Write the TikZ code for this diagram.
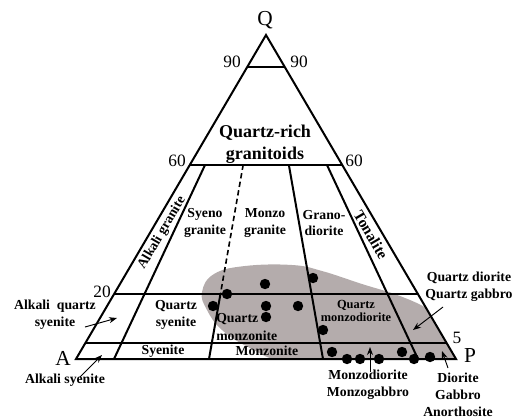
\documentclass[tikz,border=0pt]{standalone}
\usepackage{fontspec}
\setmainfont{Liberation Serif}
\usetikzlibrary{arrows.meta}

\definecolor{fieldgray}{RGB}{180,172,172}
\tikzset{
  edge/.style={line width=1.5pt, line join=miter},
  rockname/.style={font=\bfseries\fontsize{10.3}{12.6}\selectfont, align=center, inner sep=0pt},
  rocksmall/.style={font=\bfseries\fontsize{9.3}{10}\selectfont, align=center, inner sep=0pt},
  numlabel/.style={font=\fontsize{13}{15}\selectfont, inner sep=0pt},
  apexlabel/.style={font=\fontsize{16}{18}\selectfont, inner sep=0pt},
  pointer/.style={line width=0.7pt, -{Stealth[length=6pt,width=4.5pt]}}
}

\begin{document}
\begin{tikzpicture}[x=0.75pt,y=-0.75pt]
\useasboundingbox (0,0) rectangle (513,418);
\coordinate (A) at (76,359);
\coordinate (P) at (456,359);
\coordinate (Q) at (266,35);

% sample field
\begin{scope}
\clip (A) -- (Q) -- (P) -- cycle;
\fill[fieldgray] plot[smooth cycle, tension=0.7] coordinates {
  (202,292) (214,274) (245,266) (292,265) (322,271) (362,284) (400,296)
  (432,311) (470,335) (480,380) (380,378) (290,364) (250,348) (222,330) (207,310)};
\end{scope}

\draw[edge] (A) -- (Q) -- (P) -- cycle;
\draw[edge] (247,67.4) -- (285,67.4);
\draw[edge] (190,164.6) -- (342,164.6);
\draw[edge] (114,294.2) -- (418,294.2);
\draw[edge] (85.5,342.8) -- (446.5,342.8);
\foreach \top/\bot in {205.2/114,288.8/323,326.8/418}{
  \draw[edge] (\top,164.6) -- (\bot,359);
}
\draw[edge, line width=1.2pt, dash pattern=on 4pt off 2.5pt] (243.2,164.6) -- (220.4,294.2);
\draw[edge] (220.4,294.2) -- (209,359);

\node[apexlabel] (lQ) at (265,20) {Q};
\node[apexlabel] (lA) at (63,358) {A};
\node[apexlabel] (lP) at (470,356) {P};
\node[numlabel] (n90l) at (232,62) {90};
\node[numlabel] (n90r) at (299,62) {90};
\node[numlabel] (n60l) at (177,161) {60};
\node[numlabel] (n60r) at (354,161) {60};
\node[numlabel] (n20) at (102,292) {20};
\node[numlabel] (n5) at (457,338) {5};

\node[rockname, font=\bfseries\fontsize{13.5}{16.5}\selectfont] (qrich) at (265,144) {Quartz-rich\\granitoids};
\node[rockname] (syg) at (205,223) {Syeno\\granite};
\node[rockname] (mzg) at (265,223) {Monzo\\granite};
\node[rockname] (grd) at (324,223) {Grano-\\diorite};
\node[rockname, rotate=59.6] (akg) at (162,233) {Alkali granite};
\node[rockname, font=\bfseries\fontsize{11.5}{14}\selectfont, rotate=-59.6] (ton) at (371,235) {Tonalite};
\node[rockname] (qsy) at (176,315) {Quartz\\syenite};
\node[rockname, align=left, anchor=west, font=\bfseries\fontsize{10.3}{13.5}\selectfont] (qmz) at (216,327) {Quartz\\monzonite};
\node[rocksmall] (qmd) at (356,311) {Quartz\\monzodiorite};
\node[rockname] (sye) at (163,351) {Syenite};
\node[rockname] (mzn) at (267,351) {Monzonite};

\node[rockname] (aqs) at (55,315) {Alkali~~quartz\\syenite};
\node[rockname] (asy) at (65,380) {Alkali syenite};
\node[rockname, font=\bfseries\fontsize{10.3}{12.8}\selectfont] (qdg) at (469,287) {Quartz diorite\\Quartz gabbro};
\node[rockname] (mzd) at (368,385) {Monzodiorite\\Monzogabbro};
\node[rockname] (dga) at (458,395) {Diorite\\Gabbro\\Anorthosite};

\coordinate (aqsFrom) at (85,327);  \coordinate (aqsTo) at (117,318);
\coordinate (asyFrom) at (80,377);  \coordinate (asyTo) at (102,355);
\coordinate (qdgFrom) at (443,307); \coordinate (qdgTo) at (413,330);
\coordinate (mzdFrom) at (370,372); \coordinate (mzdTo) at (370,347);
\coordinate (dgaFrom) at (448,368); \coordinate (dgaTo) at (442,351);
\draw[pointer] (aqsFrom) -- (aqsTo);
\draw[pointer] (asyFrom) -- (asyTo);
\draw[pointer] (qdgFrom) -- (qdgTo);
\draw[pointer] (mzdFrom) -- (mzdTo);
\draw[pointer] (dgaFrom) -- (dgaTo);

\foreach \px/\py in {265/284,313/278,227/294,213/306,266/306,298/306,266/317,323/330,
  332/352,347/359,360/359,379/359,402/352,414/359,430/357}{
  \fill (\px,\py) circle (5.2);
}
\end{tikzpicture}
\end{document}
